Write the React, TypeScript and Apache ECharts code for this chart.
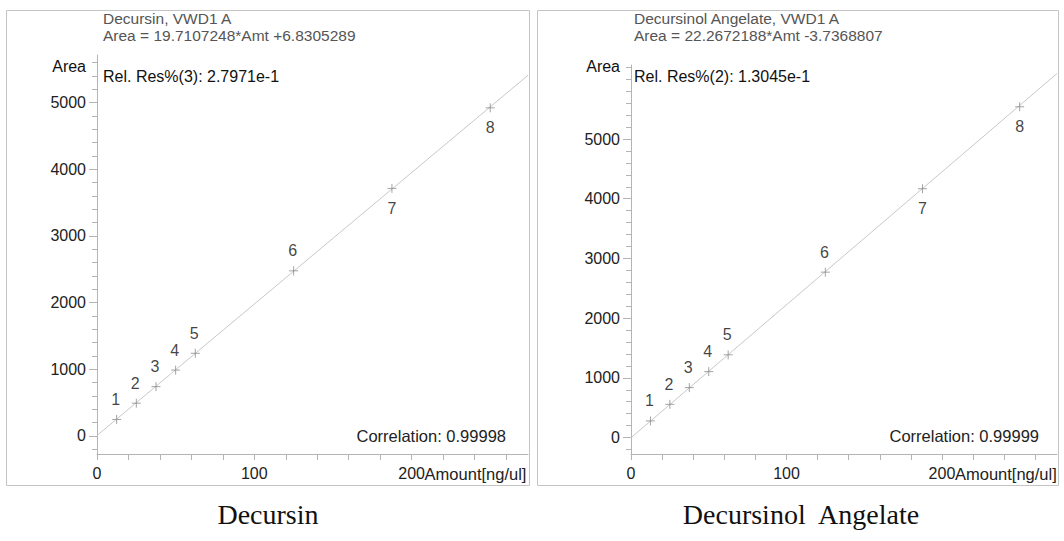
import React, { useEffect, useRef } from "react";
import * as echarts from "echarts";

// ---- data ----
const amounts = [12.5, 25, 37.5, 50, 62.5, 125, 187.5, 250];
const pointLabels = ["1", "2", "3", "4", "5", "6", "7", "8"];
const decursinAreas = [248, 492, 740, 988, 1240, 2476, 3712, 4920];
const angelateAreas = [278, 556, 836, 1104, 1385, 2770, 4168, 5540];

const fitSlopes = [19.7107248, 22.2672188];
const fitIntercepts = [6.8305289, -3.7368807];

const titles = ["Decursin, VWD1 A", "Decursinol Angelate, VWD1 A"];
const equations = [
  "Area = 19.7107248*Amt +6.8305289",
  "Area = 22.2672188*Amt -3.7368807",
];
const relRes = ["Rel. Res%(3): 2.7971e-1", "Rel. Res%(2): 1.3045e-1"];
const correlations = ["Correlation: 0.99998", "Correlation: 0.99999"];
const captions = ["Decursin", "Decursinol  Angelate"];
const xAxisName = "Amount[ng/ul]";

const xMax = 274;
const yMins = [-270, -276];
const yMaxs = [5712, 6240];
const xTickValues = [0, 20, 40, 60, 80, 100, 120, 140, 160, 180, 200, 220, 240, 260];
const xLabelValues = [0, 100, 200];
const yLabelValues = [0, 1000, 2000, 3000, 4000, 5000];
const yMinorValues = [
  [-200, 200, 400, 600, 800, 1200, 1400, 1600, 1800, 2200, 2400, 2600, 2800, 3200, 3400, 3600, 3800, 4200, 4400, 4600, 4800, 5200, 5400, 5600],
  [-200, 200, 400, 600, 800, 1200, 1400, 1600, 1800, 2200, 2400, 2600, 2800, 3200, 3400, 3600, 3800, 4200, 4400, 4600, 4800, 5200, 5400, 5600, 5800, 6000, 6200],
];
const areaSeries = [decursinAreas, angelateAreas];

const FONT = "'Liberation Sans', Arial, sans-serif";
const SERIF = "'Liberation Serif', 'DejaVu Serif', serif";
const AXIS_GRAY = "#b4b4b4";

const panels = [
  { gridLeft: 97, gridTop: 55, gridWidth: 431, gridHeight: 399, boxX: 6, boxW: 523, textX: 103, areaX: 86, corrX: 506, capX: 268 },
  { gridLeft: 631, gridTop: 65, gridWidth: 426, gridHeight: 389, boxX: 537, boxW: 521, textX: 634, areaX: 620, corrX: 1039, capX: 801 },
];

export default function App() {
  const ref = useRef<HTMLDivElement>(null);
  useEffect(() => {
    if (!ref.current) return;
    const chart = echarts.init(ref.current, undefined, { renderer: "svg" });

    const grids: any[] = [];
    const xAxes: any[] = [];
    const yAxes: any[] = [];
    const series: any[] = [];
    const graphics: any[] = [];

    panels.forEach((p, i) => {
      grids.push({ left: p.gridLeft, top: p.gridTop, width: p.gridWidth, height: p.gridHeight });
      xAxes.push({
        type: "value",
        gridIndex: i,
        min: 0,
        max: xMax,
        axisLine: { show: true, onZero: false, lineStyle: { color: AXIS_GRAY, width: 1 } },
        axisTick: { show: true, customValues: xTickValues, length: 6, lineStyle: { color: AXIS_GRAY } },
        axisLabel: {
          customValues: xLabelValues,
          color: "#222",
          fontFamily: FONT,
          fontSize: 16,
          margin: 11,
        },
        splitLine: { show: false },
      });
      // major y axis with labels
      yAxes.push({
        type: "value",
        gridIndex: i,
        min: yMins[i],
        max: yMaxs[i],
        axisLine: { show: true, onZero: false, lineStyle: { color: AXIS_GRAY, width: 1 } },
        axisTick: { show: true, customValues: yLabelValues, length: 8, lineStyle: { color: AXIS_GRAY } },
        axisLabel: {
          customValues: yLabelValues,
          formatter: (v: number) => String(v),
          color: "#222",
          fontFamily: FONT,
          fontSize: 16,
          margin: 11,
        },
        splitLine: { show: false },
      });
      // minor ticks
      yAxes.push({
        type: "value",
        gridIndex: i,
        position: "left",
        offset: 0,
        min: yMins[i],
        max: yMaxs[i],
        axisLine: { show: false, onZero: false },
        axisTick: { show: true, customValues: yMinorValues[i], length: 5, lineStyle: { color: AXIS_GRAY } },
        axisLabel: { show: false },
        splitLine: { show: false },
      });

      const yAxisIndex = i * 2;
      // fit line
      series.push({
        type: "line",
        xAxisIndex: i,
        yAxisIndex,
        data: [
          [0, fitIntercepts[i]],
          [xMax, fitSlopes[i] * xMax + fitIntercepts[i]],
        ],
        showSymbol: false,
        symbol: "none",
        lineStyle: { color: "#c8c8c8", width: 1 },
        silent: true,
        clip: true,
        z: 2,
      });
      // points
      series.push({
        type: "scatter",
        xAxisIndex: i,
        yAxisIndex,
        symbol: "path://M0,5L10,5M5,0L5,10",
        symbolSize: 9,
        itemStyle: { color: "none", borderColor: "#8c8c8c", borderWidth: 1 },
        data: amounts.map((a, k) => ({
          value: [a, areaSeries[i][k]],
          label: {
            show: true,
            formatter: pointLabels[k],
            position: k >= 6 ? "bottom" : "top",
            distance: 5,
            offset: k >= 6 ? [0, 0] : [-1, 0],
            color: "#111",
            fontFamily: FONT,
            fontSize: 16,
          },
        })),
        z: 3,
      });

      // box
      graphics.push({
        type: "rect",
        shape: { x: p.boxX + 0.5, y: 10.5, width: p.boxW, height: 475 },
        style: { fill: "none", stroke: "#c4c4c4", lineWidth: 1 },
        silent: true,
        z: 0,
      });
      graphics.push({
        type: "text",
        x: p.textX,
        y: 18,
        style: { text: titles[i], fill: "#555", font: `15.5px ${FONT}`, verticalAlign: "middle" },
      });
      graphics.push({
        type: "text",
        x: p.textX,
        y: 35,
        style: { text: equations[i], fill: "#555", font: `15.5px ${FONT}`, verticalAlign: "middle" },
      });
      graphics.push({
        type: "text",
        x: p.textX,
        y: 76,
        style: { text: relRes[i], fill: "#111", font: `16px ${FONT}`, verticalAlign: "middle" },
      });
      graphics.push({
        type: "text",
        x: p.areaX,
        y: 66,
        style: { text: "Area", fill: "#111", font: `16px ${FONT}`, align: "right", verticalAlign: "middle" },
      });
      graphics.push({
        type: "text",
        x: p.corrX,
        y: 436,
        style: { text: correlations[i], fill: "#222", font: `16.5px ${FONT}`, align: "right", verticalAlign: "middle" },
      });
      graphics.push({
        type: "text",
        x: p.capX,
        y: 514,
        style: {
          text: captions[i],
          fill: "#111",
          font: `28px ${SERIF}`,
          align: "center",
          verticalAlign: "middle",
        },
      });
    });

    chart.setOption({
      animation: false,
      backgroundColor: "#ffffff",
      grid: grids,
      xAxis: xAxes,
      yAxis: yAxes,
      series,
      graphic: graphics,
    });

    // axis name drawn right after the "200" tick label, positioned through the axis scale
    panels.forEach((p, i) => {
      const px = chart.convertToPixel({ xAxisIndex: i } as any, 200) as unknown as number;
      graphics.push({
        type: "text",
        x: px + 13,
        y: p.gridTop + p.gridHeight + 11,
        style: { text: xAxisName, fill: "#222", font: `16.5px ${FONT}`, align: "left", verticalAlign: "top" },
      });
    });
    chart.setOption({ graphic: graphics });

    return () => chart.dispose();
  }, []);

  return (
    <div
      ref={ref}
      style={{ position: "absolute", left: 0, top: 0, width: 1064, height: 541, background: "#fff" }}
    />
  );
}
